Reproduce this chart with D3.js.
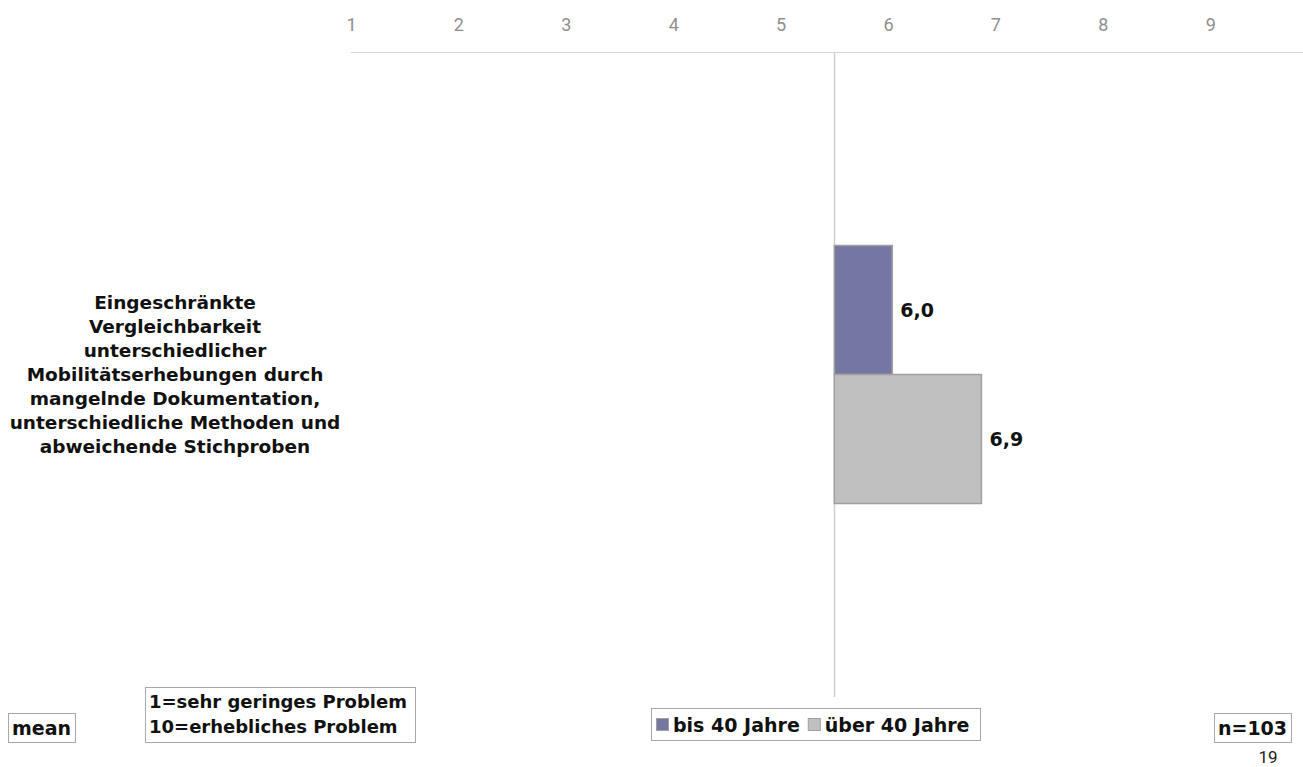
<!DOCTYPE html>
<html><head><meta charset="utf-8">
<script src="https://cdn.jsdelivr.net/npm/d3@7"></script>
<style>body{margin:0;background:#fff;} svg{display:block;}</style>
</head><body>
<svg id="c" width="1303" height="767"></svg>
<script>
const categories = ["Eingeschränkte Vergleichbarkeit unterschiedlicher Mobilitätserhebungen durch mangelnde Dokumentation, unterschiedliche Methoden und abweichende Stichproben"];
const categoryLines = ["Eingeschränkte","Vergleichbarkeit","unterschiedlicher","Mobilitätserhebungen durch","mangelnde Dokumentation,","unterschiedliche Methoden und","abweichende Stichproben"];
const seriesNames = ["bis 40 Jahre", "über 40 Jahre"];
const seriesValues = [6.04, 6.87];
const seriesColors = ["#7577a3", "#c0c0c0"];
const tickValues = [1,2,3,4,5,6,7,8,9];
const baseline = 5.5;

const svg = d3.select("#c");
const W = 1303;
const x = d3.scaleLinear().domain([1,10]).range([351, 1317.6]);
const y = d3.scaleBand().domain(categories).range([52, 697]);
const ySub = d3.scaleBand().domain(seriesNames).range([0, y.bandwidth()]).paddingInner(0).paddingOuter(1.5);

const bold = "'DejaVu Sans', Verdana, sans-serif";
const FS = "19px";

// top axis
const ax = svg.append("g").attr("transform","translate(0,52)")
  .call(d3.axisTop(x).tickValues(tickValues).tickSize(0).tickPadding(21).tickFormat(d3.format("d")));
ax.attr("font-size","18px").attr("font-family","Roboto, sans-serif");
ax.select(".domain").remove();
ax.selectAll("text").attr("fill","#8f8f8f").attr("y",-27).attr("dy","0.35em");
svg.append("line").attr("x1",x(1)).attr("x2",W).attr("y1",52.5).attr("y2",52.5).attr("stroke","#d4d4d4").attr("stroke-width",1);

// baseline vertical
svg.append("line").attr("x1",Math.round(x(baseline))+0.5).attr("x2",Math.round(x(baseline))+0.5)
  .attr("y1",52).attr("y2",697).attr("stroke","#cfcfcf").attr("stroke-width",1.5);

// bars
const g = svg.append("g").attr("transform",`translate(0,${y(categories[0])})`);
seriesNames.forEach((s,i)=>{
  const v = seriesValues[i];
  g.append("rect").attr("x",x(baseline)).attr("y",ySub(s))
    .attr("width",x(v)-x(baseline)).attr("height",ySub.bandwidth())
    .attr("fill",seriesColors[i]).attr("stroke","#a0a0a0").attr("stroke-width",1.5);
  g.append("text").attr("x",x(v)+8).attr("y",ySub(s)+ySub.bandwidth()/2)
    .attr("dy","0.35em").attr("font-family",bold).attr("font-weight","bold").attr("font-size",FS)
    .attr("fill","#111").text(d3.format(".1f")(v).replace(".",","));
});

// category label
const cy = y(categories[0]) + y.bandwidth()/2;
const lh = 24;
const lab = svg.append("text").attr("text-anchor","middle").attr("font-family",bold).attr("font-weight","bold")
  .attr("font-size","18.5px").attr("fill","#111");
categoryLines.forEach((l,i)=>{
  lab.append("tspan").attr("x",175).attr("y",cy + (i-(categoryLines.length-1)/2)*lh).attr("dy","0.35em").text(l);
});

// boxes
function box(x0,y0,w,h){
  svg.append("rect").attr("x",x0+0.5).attr("y",y0+0.5).attr("width",w).attr("height",h)
    .attr("fill","#fff").attr("stroke","#a8a8a8").attr("stroke-width",1);
}
function btext(t,xx,yy,anchor,fs){
  return svg.append("text").attr("x",xx).attr("y",yy).attr("text-anchor",anchor||"start").attr("dy","0.35em")
    .attr("font-family",bold).attr("font-weight","bold").attr("font-size",fs||FS).attr("fill","#111").text(t);
}
box(8,713,67,29); btext("mean",41.5,728,"middle");
box(145,687,270,55); btext("1=sehr geringes Problem",149,702,"start","18px"); btext("10=erhebliches Problem",149,727,"start","18px");
box(1214,713,77,29); btext("n=103",1252.5,728,"middle");
svg.append("text").attr("x",1268).attr("y",757).attr("text-anchor","middle").attr("dy","0.35em")
  .attr("font-family","Roboto, sans-serif").attr("font-size","17px").attr("fill","#222").text("19");

// legend
box(651,708,329,32);
let lx = 656;
seriesNames.forEach((s,i)=>{
  svg.append("rect").attr("x",lx+0.5).attr("y",718.5).attr("width",12).attr("height",12)
    .attr("fill",seriesColors[i]).attr("stroke","#a0a0a0").attr("stroke-width",1);
  const t = btext(s, lx+17, 725);
  lx += 17 + t.node().getComputedTextLength() + 8;
});
</script>
</body></html>
